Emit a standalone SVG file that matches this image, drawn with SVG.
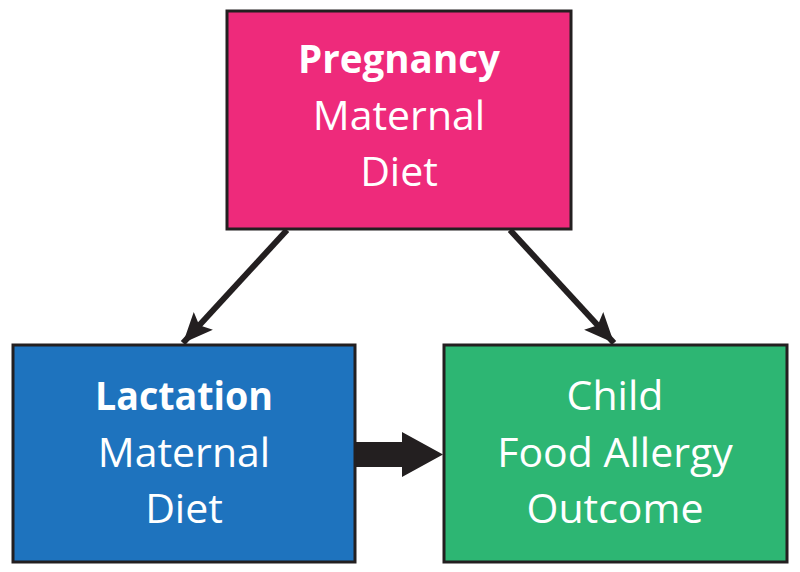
<svg xmlns="http://www.w3.org/2000/svg" width="800" height="572" viewBox="0 0 800 572">
<defs>
<style>
.box{stroke:#231f20;stroke-width:3}
.t{font-family:"Open Sans","Liberation Sans",sans-serif;font-size:41px;fill:#fff;text-anchor:middle}
.b{font-weight:bold;font-size:39px}
.ln{stroke:#231f20;stroke-width:6;fill:none}
</style>
<marker id="ah" markerUnits="userSpaceOnUse" markerWidth="32" markerHeight="32" viewBox="0 0 32 32" refX="30" refY="16" orient="auto">
<path d="M0,3 L30,16 L0,29 L6,16 Z" fill="#231f20"/>
</marker>
</defs>
<rect width="800" height="572" fill="#fff"/>
<g id="connectors">
<line class="ln" x1="287" y1="230" x2="183" y2="343" marker-end="url(#ah)"/>
<line class="ln" x1="510" y1="230" x2="614" y2="343" marker-end="url(#ah)"/>
<path d="M355,442 L402,442 L402,432 L443,454.5 L402,477 L402,467 L355,467 Z" fill="#231f20"/>
</g>
<g id="pregnancy">
<rect class="box" x="227" y="11" width="344" height="218" fill="#ee2a7b"/>
<text class="t b" x="399" y="73" textLength="202" lengthAdjust="spacingAndGlyphs">Pregnancy</text>
<text class="t" x="399" y="130">Maternal</text>
<text class="t" x="399" y="186">Diet</text>
</g>
<g id="lactation">
<rect class="box" x="13" y="345" width="342" height="217" fill="#1e73be"/>
<text class="t b" x="184" y="410" textLength="178" lengthAdjust="spacingAndGlyphs">Lactation</text>
<text class="t" x="184" y="467">Maternal</text>
<text class="t" x="184" y="523">Diet</text>
</g>
<g id="outcome">
<rect class="box" x="444" y="345" width="343" height="217" fill="#2db673"/>
<text class="t" x="615" y="410">Child</text>
<text class="t" x="615" y="467">Food Allergy</text>
<text class="t" x="615" y="523">Outcome</text>
</g>
</svg>
